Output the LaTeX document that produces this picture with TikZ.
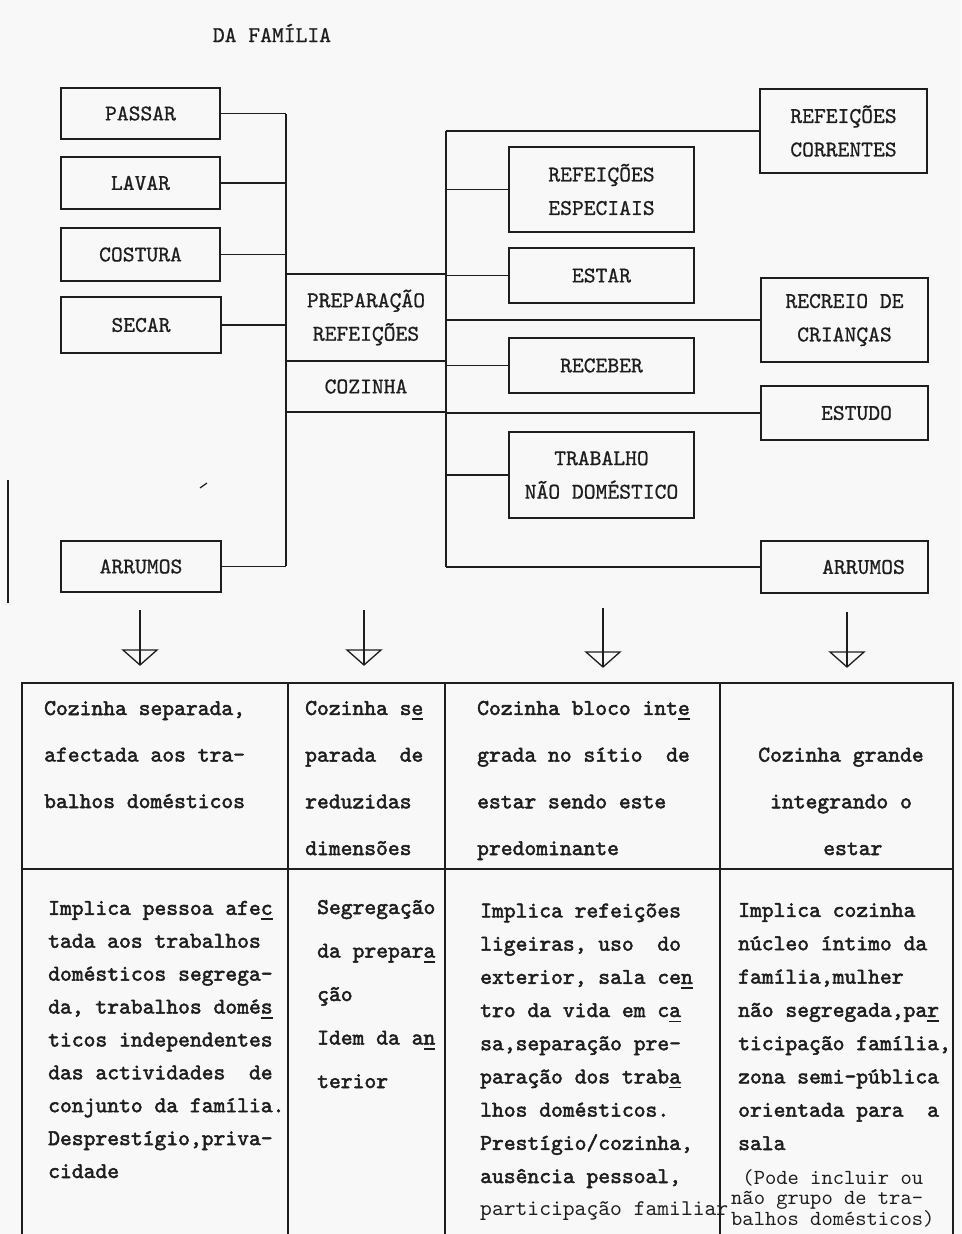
\documentclass[tikz,border=0pt]{standalone}
\usepackage{fontspec}
\usetikzlibrary{calc}
\newfontfamily\tyreg{lmmono10-regular.otf}[FakeBold=0.8]
\newfontfamily\tybold{lmmono10-regular.otf}[FakeBold=2.2]
\newfontfamily\tylite{lmmono10-regular.otf}
\definecolor{ink}{HTML}{1E1E1E}
\definecolor{paper}{HTML}{F8F8F8}
\newcommand{\undr}[1]{\rlap{\rule[-5pt]{0.525em}{1.5pt}}#1}
\newcommand{\lblfont}{\fontsize{22.5}{33.5}\tyreg}
\tikzset{
  box/.style={draw=ink, line width=2.2pt, inner sep=0pt, font=\lblfont, align=center, text=ink},
  conn/.style={draw=ink, line width=1.1pt},
  grid/.style={draw=ink, line width=2pt},
  cell/.style={anchor=base west, inner sep=0pt, align=left, text=ink},
  arrowline/.style={draw=ink, line width=1.3pt, line join=miter},
}
\begin{document}
\begin{tikzpicture}[x=1pt,y=-1pt]
\fill[paper] (0,0) rectangle (961,1234);
\useasboundingbox (0,0) rectangle (961,1234);

% title
\node[anchor=base, inner sep=0pt, font=\lblfont, text=ink] (title) at (272,42) {DA FAMÍLIA};

% left boxes
\node[box, minimum width=159pt, minimum height=51pt] (passar) at (140.5,113.5) {PASSAR};
\node[box, minimum width=159pt, minimum height=52pt] (lavar) at (140.5,183) {LAVAR};
\node[box, minimum width=159pt, minimum height=53pt] (costura) at (140.5,254.5) {COSTURA};
\node[box, minimum width=160pt, minimum height=56pt] (secar) at (141,325) {SECAR};
\node[box, minimum width=160pt, minimum height=51pt] (arrumosL) at (141,566.5) {ARRUMOS};

% centre boxes
\node[box, minimum width=160pt, minimum height=87pt] (prep) at (366,317.5) {PREPARAÇÃO\\REFEIÇÕES};
\node[box, minimum width=160pt, minimum height=51pt] (cozinha) at (366,386.5) {COZINHA};

% middle-right boxes
\node[box, minimum width=185pt, minimum height=85pt] (refesp) at (601.5,189.5) {REFEIÇÕES\\ESPECIAIS};
\node[box, minimum width=185pt, minimum height=55pt] (estar) at (601.5,275.5) {ESTAR};
\node[box, minimum width=185pt, minimum height=55pt] (receber) at (601.5,365.5) {RECEBER};
\node[box, minimum width=185pt, minimum height=86pt] (trabalho) at (601.5,475) {TRABALHO\\NÃO DOMÉSTICO};

% far-right boxes
\node[box, minimum width=167pt, minimum height=84pt] (refcor) at (843.5,131) {REFEIÇÕES\\CORRENTES};
\node[box, minimum width=167pt, minimum height=84pt] (recreio) at (844.5,320) {RECREIO DE\\CRIANÇAS};
\node[box, minimum width=167pt, minimum height=54pt] (estudo) at (844.5,413) {\hspace*{24pt}ESTUDO};
\node[box, minimum width=167pt, minimum height=52pt] (arrumosR) at (844.5,567) {\hspace*{38pt}ARRUMOS};

% buses
\coordinate (Ltop) at (286,114);
\coordinate (Lbot) at (286,566);
\coordinate (Rtop) at (446,131);
\coordinate (Rbot) at (446,567);
\draw[conn] (Ltop) -- (Lbot);
\draw[conn] (Rtop) -- (Rbot);
\foreach \n in {passar,lavar,costura,secar,arrumosL}
  \draw[conn] (\n.east) -- (\n.east -| Ltop);
\foreach \n in {refcor,refesp,estar,recreio,receber,estudo,trabalho,arrumosR}
  \draw[conn] (\n.west) -- (\n.west -| Rtop);

% arrows
\foreach \i/\ax/\ay/\ty in {1/140/610/665, 2/364/610/665, 3/603/608/667, 4/847/612/667}{
  \coordinate (s\i) at (\ax,\ay);
  \coordinate (t\i) at (\ax,\ty);
  \draw[arrowline] (s\i) -- (t\i);
  \draw[arrowline] ($(t\i)+(-17,-15)$) -- ($(t\i)+(17,-15)$) -- (t\i) -- cycle;
}

% table grid
\draw[grid] (22,1234) -- (22,683) -- (953,683) -- (953,1234);
\draw[grid] (288,683) -- (288,1234);
\draw[grid] (445,683) -- (445,1234);
\draw[grid] (720,683) -- (720,1234);
\draw[grid] (22,869) -- (953,869);

% row 1 (nodes anchored at the baseline of their last line)
\node[cell, font=\fontsize{22.5}{46.5}\tybold] (c11) at (44,808)
  {Cozinha separada,\\afectada aos tra-\\balhos domésticos};
\node[cell, font=\fontsize{22.5}{46.7}\tybold] (c12) at (305,855)
  {Cozinha s\undr{e}\\parada~~de\\reduzidas\\dimensões};
\node[cell, font=\fontsize{22.5}{46.7}\tybold] (c13) at (477,855)
  {Cozinha bloco int\undr{e}\\grada no sítio~~de\\estar sendo este\\predominante};
\node[anchor=base, inner sep=0pt, align=center, text=ink, font=\fontsize{22.5}{46.7}\tybold] (c14) at (841,855)
  {Cozinha grande\\integrando o\\~~estar};

% row 2
\node[cell, font=\fontsize{22.5}{32.9}\tybold] (c21) at (48,1178)
  {Implica pessoa afe\undr{c}\\tada aos trabalhos\\domésticos segrega-\\da, trabalhos domé\undr{s}\\ticos independentes\\das actividades~~de\\conjunto da família.\\Desprestígio,priva-\\cidade};
\node[cell, font=\fontsize{22.5}{43.5}\tybold] (c22) at (317,1088)
  {Segregação\\da prepar\undr{a}\\ção\\Idem da a\undr{n}\\terior};
\node[cell, font=\fontsize{22.5}{33.2}\tybold] (c23) at (480,1183)
  {Implica refeições\\ligeiras, uso~~do\\exterior, sala ce\undr{n}\\tro da vida em c\undr{a}\\sa,separação pre-\\paração dos trab\undr{a}\\lhos domésticos.\\Prestígio/cozinha,\\ausência pessoal,};
\node[cell, font=\fontsize{22.5}{33}\tylite] (c23b) at (480,1215)
  {participação familiar};
\node[cell, font=\fontsize{22.5}{33.3}\tybold] (c24) at (738,1150)
  {Implica cozinha\\núcleo íntimo da\\família,mulher\\não segregada,pa\undr{r}\\ticipação família,\\zona semi-pública\\orientada para~~a\\sala};
\node[cell, font=\fontsize{21.5}{20.5}\tylite] (c24b) at (731,1225)
  {~(Pode incluir ou\\não grupo de tra-\\balhos domésticos)};

% scan marks
\draw[ink, line width=1.5pt] (8,480) -- (8,603);
\draw[ink, line width=1.2pt] (200,488) -- (207,483);
\end{tikzpicture}
\end{document}
